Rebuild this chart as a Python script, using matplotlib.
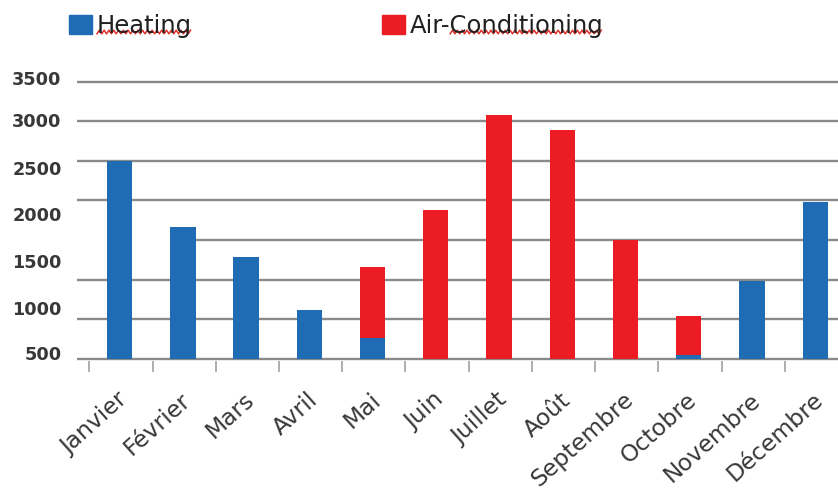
import numpy as np
import matplotlib
matplotlib.use("Agg")
import matplotlib.pyplot as plt
from matplotlib.lines import Line2D
from matplotlib.patches import Patch
from matplotlib.transforms import ScaledTranslation, IdentityTransform

months = ["Janvier", "Février", "Mars", "Avril", "Mai", "Juin", "Juillet",
          "Août", "Septembre", "Octobre", "Novembre", "Décembre"]
heating = [2500, 1670, 1290, 620, 270, 0, 0, 0, 0, 50, 980, 1980]
air_conditioning = [0, 0, 0, 0, 890, 1880, 3080, 2890, 1500, 490, 0, 0]

y_labels = ["500", "1000", "1500", "2000", "2500", "3000", "3500"]
y_label_pos = [70, 650, 1240, 1830, 2410, 3010, 3540]
grid_values = np.arange(0, 3501, 500)

BLUE = "#1f6cb5"
RED = "#ec1c24"
GRID = "#8a8a8a"
TEXT = "#383838"

fig = plt.figure(figsize=(8.38, 4.94), dpi=100)
ax = fig.add_axes([0.0915, 0.270, 0.9085, 0.5713])

x = np.arange(len(months))
x_lo, x_hi = -0.68, 11.36

ax.bar(x, heating, width=0.4, color=BLUE, zorder=3)
ax.bar(x, air_conditioning, width=0.4, bottom=heating, color=RED, zorder=3)

# horizontal rules; the 1500 one only starts behind the Février bar
for v in grid_values:
    start = 1.0 if v == 1500 else x_lo
    ax.hlines(v, start, x_hi, color=GRID, lw=1.7, zorder=1)

ax.set_xlim(x_lo, x_hi)
ax.set_ylim(-20, 3520)
for s in ax.spines.values():
    s.set_visible(False)

# y labels
ax.set_yticks(y_label_pos, y_labels)
ax.tick_params(axis="y", length=0, pad=10.8, labelsize=12.7, labelcolor=TEXT)
for lbl in ax.get_yticklabels():
    lbl.set_fontweight("bold")

# month labels on the bar centres, small marks between categories
ax.set_xticks(x, months, rotation=42, ha="right", va="center",
              rotation_mode="anchor")
ax.tick_params(axis="x", which="major", length=0, pad=26, labelsize=16.8,
               labelcolor=TEXT)
ax.set_xticks(x - 0.48, minor=True)
ax.tick_params(axis="x", which="minor", length=8, width=1.3, color="#a8a8a8")
shift = ScaledTranslation(0.05, 0, fig.dpi_scale_trans)
for lbl in ax.get_xticklabels():
    lbl.set_transform(lbl.get_transform() + shift)

handles = [Patch(color=BLUE, label="Heating"),
           Patch(color=RED, label="Air-Conditioning")]
leg = fig.legend(handles=handles, loc="upper left",
                 bbox_to_anchor=(69 / 838, 1 - 14 / 494), ncol=2,
                 frameon=False, fontsize=17.5, handlelength=0.95,
                 handleheight=0.8, handletextpad=0.2, columnspacing=7.8,
                 borderpad=0, borderaxespad=0)
for t in leg.get_texts():
    t.set_color("#202020")

# red wavy underline under the legend words
fig.canvas.draw()
renderer = fig.canvas.get_renderer()


def squiggle(x0, x1, y, amp=1.8, step=2.4):
    xs = np.arange(x0, x1, step)
    ys = y + amp * ((np.arange(len(xs)) % 2) * 2 - 1)
    fig.add_artist(Line2D(xs, ys, transform=IdentityTransform(),
                          color="#e0302a", lw=1.1))


for t, skip in zip(leg.get_texts(), ["", "Air-"]):
    bb = t.get_window_extent(renderer)
    off = 0
    if skip:
        off, _, _ = renderer.get_text_width_height_descent(
            skip, t.get_fontproperties(), ismath=False)
    squiggle(bb.x0 + off, bb.x1, bb.y0 + 0.25 * bb.height)

fig.savefig("out.png", dpi=100)
